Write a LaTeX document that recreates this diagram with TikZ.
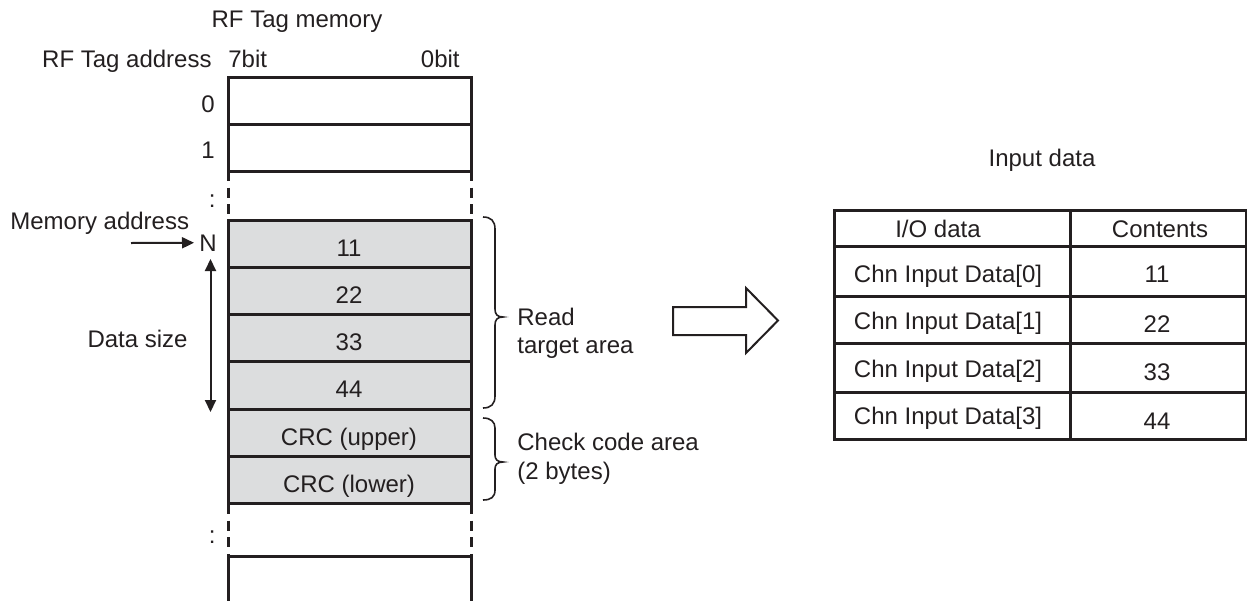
\documentclass[tikz,border=0pt]{standalone}
\usepackage{fontspec}
\setmainfont{Liberation Sans}
\usetikzlibrary{arrows.meta}
\definecolor{ink}{RGB}{35,31,32}
\definecolor{cellgray}{RGB}{220,221,222}
\begin{document}
\begin{tikzpicture}[x=0.5pt,y=-0.5pt,
  txt/.style={inner sep=0pt,anchor=base,text=ink,font=\fontsize{12pt}{14pt}\selectfont},
  boxline/.style={line width=1.5pt,draw=ink},
  dashline/.style={line width=1.5pt,draw=ink,dash pattern=on 5pt off 3.3pt},
  braceline/.style={line width=0.8pt,draw=ink},
  arr/.style={line width=1pt,draw=ink,-{Triangle[length=6pt,width=5.5pt]}},
  dblarr/.style={line width=1pt,draw=ink,{Triangle[length=6pt,width=5.5pt]}-{Triangle[length=6pt,width=5.5pt]}}
  ]
\useasboundingbox (0,0) rectangle (1247,600);

% ---- memory header texts
\node[txt] (title) at (297,27) {RF Tag memory};
\node[txt,anchor=base east] (addr) at (212,67) {RF Tag address};
\node[txt,anchor=base west] (b7) at (228,67) {7bit};
\node[txt,anchor=base east] (b0) at (460,67) {0bit};

% ---- top rows
\draw[boxline] (228,77) rectangle (471,124);
\draw[boxline] (228,124) rectangle (471,171);
\node[txt,anchor=base east] (a0) at (215,112) {0};
\node[txt,anchor=base east] (a1) at (215,158) {1};
\draw[dashline] (228,171) -- (228,220);
\draw[dashline] (471,171) -- (471,220);
\node[txt,anchor=base east] (c1) at (216,207) {:};

% ---- gray rows
\foreach \i/\t in {0/11,1/22,2/33,3/44,4/CRC (upper),5/CRC (lower)}{
  \filldraw[fill=cellgray,boxline] (228,{220+47.33*\i}) rectangle (471,{220+47.33*(\i+1)});
  \node[txt] (r\i) at (349,{256+47.33*\i}) {\t};
}

% ---- lower part
\draw[dashline] (228,504) -- (228,556);
\draw[dashline] (471,504) -- (471,556);
\node[txt,anchor=base east] (c2) at (216,543) {:};
\draw[boxline] (228,601) -- (228,556) -- (471,556) -- (471,601);

% ---- memory address + data size
\node[txt,anchor=base west] (memaddr) at (10,229) {Memory address};
\node[txt,anchor=base west] (N) at (199,251) {N};
\coordinate (maStart) at (131,243);
\draw[arr] (maStart) -- ([xshift=-2.5pt]N.west);
\node[txt,anchor=base east] (dsize) at (188,347) {Data size};
\coordinate (dsTop) at (210.5,259);
\coordinate (dsBot) at (210.5,412);
\draw[dblarr] (dsTop) -- (dsBot);

% ---- braces
\draw[braceline] (483,217) .. controls (491,217) and (495,221) .. (495,229)
  -- (495,309) .. controls (495,314) and (497,317) .. (503,317)
  .. controls (497,317) and (495,320) .. (495,325)
  -- (495,396) .. controls (495,404) and (491,408) .. (483,408);
\draw[braceline] (483,418) .. controls (491,418) and (495,422) .. (495,428)
  -- (495,455) .. controls (495,459) and (497,462) .. (503,462)
  .. controls (497,462) and (495,465) .. (495,469)
  -- (495,490) .. controls (495,497) and (491,500) .. (483,500);
\node[txt,anchor=base west] (read1) at (517,325) {Read};
\node[txt,anchor=base west] (read2) at (517,353) {target area};
\node[txt,anchor=base west] (chk1) at (517,450) {Check code area};
\node[txt,anchor=base west] (chk2) at (517,479) {(2 bytes)};

% ---- hollow arrow
\draw[line width=1pt,draw=ink,fill=white,line join=miter]
  (673,307) -- (746,307) -- (746,288) -- (778,320.5) -- (746,353) -- (746,335) -- (673,335) -- cycle;

% ---- table
\node[txt] (intitle) at (1042,166) {Input data};
\draw[boxline] (834,210) rectangle (1246,439);
\foreach \y in {246,296,343,392}{ \draw[boxline] (834,\y) -- (1246,\y); }
\draw[boxline] (1070,210) -- (1070,439);
\node[txt] (h1) at (938,237) {I/O data};
\node[txt] (h2) at (1160,237) {Contents};
\foreach \i/\yb/\yn/\v in {0/282/282/11,1/329/332/22,2/377/380/33,3/424/429/44}{
  \node[txt] (d\i) at (948,\yb) {Chn Input Data[\i]};
  \node[txt] (v\i) at (1157,\yn) {\v};
}
\end{tikzpicture}
\end{document}
